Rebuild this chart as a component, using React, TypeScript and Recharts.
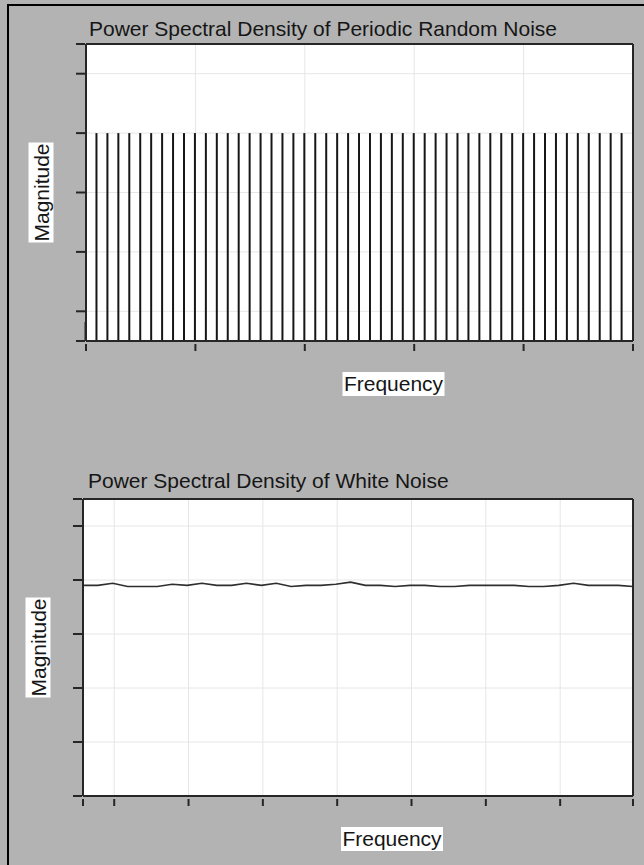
import React from "react";
import { Bar, CartesianGrid, ComposedChart, Line, LineChart, XAxis, YAxis } from "recharts";

const FONT = '"Liberation Sans", Arial, Helvetica, sans-serif';
const INK = "#161616";
const FRAME = "#262626";
const GRID = "#e6e6e6";

// top panel: periodic random noise, one spectral line every 0.01 fs
const periodicFreqs = [
  0, 0.01, 0.02, 0.03, 0.04, 0.05, 0.06, 0.07, 0.08, 0.09,
  0.1, 0.11, 0.12, 0.13, 0.14, 0.15, 0.16, 0.17, 0.18, 0.19,
  0.2, 0.21, 0.22, 0.23, 0.24, 0.25, 0.26, 0.27, 0.28, 0.29,
  0.3, 0.31, 0.32, 0.33, 0.34, 0.35, 0.36, 0.37, 0.38, 0.39,
  0.4, 0.41, 0.42, 0.43, 0.44, 0.45, 0.46, 0.47, 0.48, 0.49
];
const periodicMags = [
  0.32, 3.5, 3.5, 3.5, 3.5, 3.5, 3.5, 3.5, 3.5, 3.5,
  3.5, 3.5, 3.5, 3.5, 3.5, 3.5, 3.5, 3.5, 3.5, 3.5,
  3.5, 3.5, 3.5, 3.5, 3.5, 3.5, 3.5, 3.5, 3.5, 3.5,
  3.5, 3.5, 3.5, 3.5, 3.5, 3.5, 3.5, 3.5, 3.5, 3.5,
  3.5, 3.5, 3.5, 3.5, 3.5, 3.5, 3.5, 3.5, 3.5, 3.5
];
const periodicXTicks = [0, 0.1, 0.2, 0.3, 0.4, 0.5];
const periodicYTicks = [0, 0.5, 1.5, 2.5, 3.5, 4.5, 5];

// bottom panel: white noise, nearly flat
const whiteFreqs = [
  0, 0.2, 0.4, 0.6, 0.8, 1, 1.2, 1.4, 1.6, 1.8,
  2, 2.2, 2.4, 2.6, 2.8, 3, 3.2, 3.4, 3.6, 3.8,
  4, 4.2, 4.4, 4.6, 4.8, 5, 5.2, 5.4, 5.6, 5.8,
  6, 6.2, 6.4, 6.6, 6.8, 7, 7.2, 7.4
];
const whiteMags = [
  3.9, 3.9, 3.94, 3.88, 3.88, 3.88, 3.92, 3.9, 3.94, 3.9,
  3.9, 3.94, 3.9, 3.94, 3.88, 3.9, 3.9, 3.92, 3.96, 3.9,
  3.9, 3.88, 3.9, 3.9, 3.88, 3.88, 3.9, 3.9, 3.9, 3.9,
  3.88, 3.88, 3.9, 3.94, 3.9, 3.9, 3.9, 3.88
];
const whiteXTicks = [0, 0.42, 1.42, 2.42, 3.42, 4.42, 5.42, 6.42, 7.4];
const whiteYTicks = [0, 1, 2, 3, 4, 5, 5.5];

const textStyle = { fontFamily: FONT, fontSize: 21, fill: INK };

function XTick(props: any) {
  const { x, y } = props;
  return <line x1={x} x2={x} y1={y + 3} y2={y + 10} stroke={FRAME} strokeWidth={2} />;
}

function YTick(props: any) {
  const { x, y } = props;
  return <line x1={x - 10} x2={x - 1} y1={y} y2={y} stroke={FRAME} strokeWidth={2} />;
}

function titleLabel(text: string, dx: number, gap: number) {
  return (props: any) => {
    const vb = props.viewBox;
    return (
      <text x={vb.x + dx} y={vb.y + vb.height - gap} style={textStyle}>
        {text}
      </text>
    );
  };
}

function freqLabel(props: any) {
  const vb = props.viewBox;
  const cx = vb.x + vb.width / 2 + 34;
  const top = vb.y + 31;
  return (
    <g>
      <rect x={cx - 51} y={top} width={102} height={24} fill="#fff" />
      <text x={cx} y={top + 19} textAnchor="middle" style={textStyle}>
        Frequency
      </text>
    </g>
  );
}

function magLabel(props: any) {
  const vb = props.viewBox;
  const cx = vb.x + vb.width - 45;
  const cy = vb.y + vb.height / 2;
  return (
    <g>
      <rect x={cx - 12.5} y={cy - 50} width={25} height={100} fill="#fff" />
      <text
        x={cx}
        y={cy + 8}
        textAnchor="middle"
        transform={`rotate(-90, ${cx}, ${cy})`}
        style={textStyle}
      >
        Magnitude
      </text>
    </g>
  );
}

function PeriodicPanel() {
  const data = periodicFreqs.map((f, i) => ({ freq: f, mag: periodicMags[i] }));
  return (
    <ComposedChart
      width={644}
      height={420}
      data={data}
      margin={{ top: 43, right: 10, bottom: 19, left: 66 }}
      style={{ fontFamily: FONT }}
    >
      <CartesianGrid fill="#fff" stroke={GRID} strokeWidth={1} />
      <XAxis
        dataKey="freq"
        type="number"
        domain={[0, 0.5]}
        ticks={periodicXTicks}
        height={60}
        tickSize={0}
        tickMargin={0}
        tickLine={false}
        tick={<XTick />}
        axisLine={{ stroke: FRAME, strokeWidth: 2 }}
        label={{ content: freqLabel }}
      />
      <XAxis
        xAxisId="top"
        orientation="top"
        type="number"
        domain={[0, 0.5]}
        ticks={periodicXTicks}
        height={1}
        tick={false}
        tickLine={false}
        axisLine={{ stroke: FRAME, strokeWidth: 2 }}
        label={{ content: titleLabel("Power Spectral Density of Periodic Random Noise", 3, 8) }}
      />
      <YAxis
        type="number"
        domain={[0, 5]}
        ticks={periodicYTicks}
        width={20}
        tickSize={0}
        tickMargin={0}
        tickLine={false}
        tick={<YTick />}
        axisLine={{ stroke: FRAME, strokeWidth: 2 }}
        label={{ content: magLabel }}
      />
      <YAxis
        yAxisId="right"
        orientation="right"
        type="number"
        domain={[0, 5]}
        ticks={periodicYTicks}
        width={1}
        tick={false}
        tickLine={false}
        axisLine={{ stroke: FRAME, strokeWidth: 2 }}
      />
      <Bar dataKey="mag" fill={INK} barSize={2} isAnimationActive={false} />
    </ComposedChart>
  );
}

function WhitePanel() {
  const data = whiteFreqs.map((f, i) => ({ freq: f, mag: whiteMags[i] }));
  return (
    <LineChart
      width={644}
      height={445}
      data={data}
      margin={{ top: 78, right: 10, bottom: 9, left: 63 }}
      style={{ fontFamily: FONT }}
    >
      <CartesianGrid fill="#fff" stroke={GRID} strokeWidth={1} />
      <XAxis
        dataKey="freq"
        type="number"
        domain={[0, 7.4]}
        ticks={whiteXTicks}
        height={60}
        tickSize={0}
        tickMargin={0}
        tickLine={false}
        tick={<XTick />}
        axisLine={{ stroke: FRAME, strokeWidth: 2 }}
        label={{ content: freqLabel }}
      />
      <XAxis
        xAxisId="top"
        orientation="top"
        type="number"
        domain={[0, 7.4]}
        ticks={whiteXTicks}
        height={1}
        tick={false}
        tickLine={false}
        axisLine={{ stroke: FRAME, strokeWidth: 2 }}
        label={{ content: titleLabel("Power Spectral Density of White Noise", 5, 11) }}
      />
      <YAxis
        type="number"
        domain={[0, 5.5]}
        ticks={whiteYTicks}
        width={20}
        tickSize={0}
        tickMargin={0}
        tickLine={false}
        tick={<YTick />}
        axisLine={{ stroke: FRAME, strokeWidth: 2 }}
        label={{ content: magLabel }}
      />
      <YAxis
        yAxisId="right"
        orientation="right"
        type="number"
        domain={[0, 5.5]}
        ticks={whiteYTicks}
        width={1}
        tick={false}
        tickLine={false}
        axisLine={{ stroke: FRAME, strokeWidth: 2 }}
      />
      <Line
        type="linear"
        dataKey="mag"
        stroke="#2e2e2e"
        strokeWidth={1.6}
        dot={false}
        isAnimationActive={false}
      />
    </LineChart>
  );
}

export default function App() {
  return (
    <div
      style={{
        position: "absolute",
        left: 0,
        top: 0,
        width: 644,
        height: 865,
        background: "#b3b3b3",
        overflow: "hidden"
      }}
    >
      <div style={{ position: "absolute", left: 7, top: 4, width: 637, height: 2, background: "#000" }} />
      <div style={{ position: "absolute", left: 7, top: 4, width: 2, height: 861, background: "#000" }} />
      <div style={{ position: "absolute", left: 0, top: 0 }}>
        <PeriodicPanel />
      </div>
      <div style={{ position: "absolute", left: 0, top: 420 }}>
        <WhitePanel />
      </div>
    </div>
  );
}
